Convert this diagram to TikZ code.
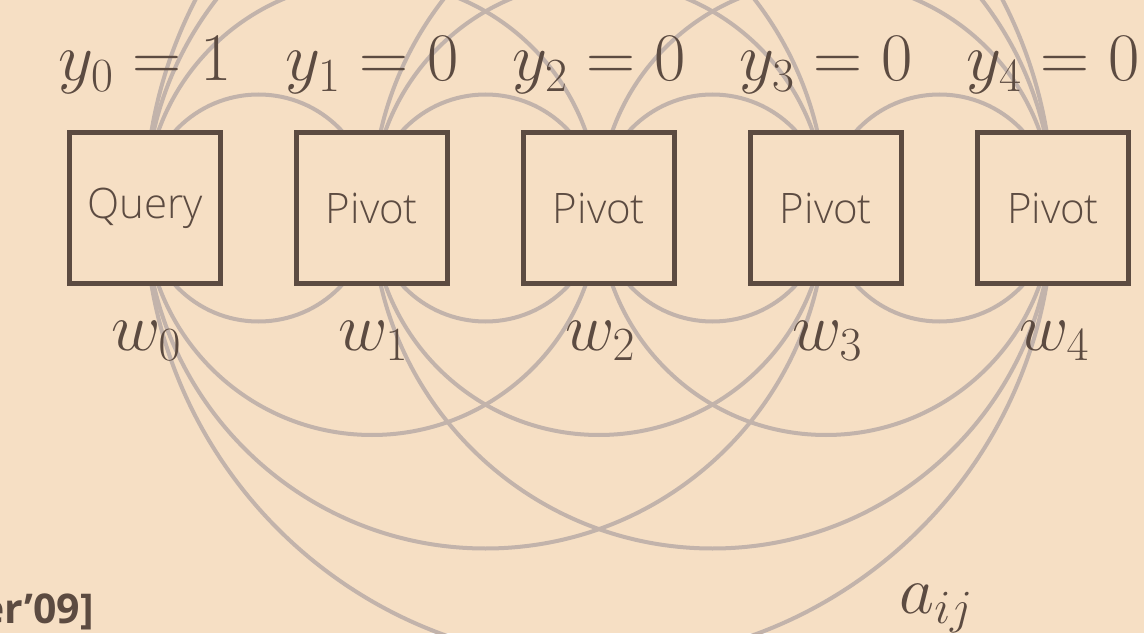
\RequirePackage{fix-cm}
\documentclass[tikz,border=0pt]{standalone}
\usepackage{fontspec}
\newfontfamily\boxfont{Open Sans Light}
\newfontfamily\citefont{Open Sans}
\definecolor{bg}{HTML}{F6DFC4}
\definecolor{ink}{HTML}{5C4B41}
\definecolor{arcc}{HTML}{C2B3AB}
\pgfdeclarelayer{back}
\pgfdeclarelayer{arcs}
\pgfsetlayers{back,arcs,main}
\begin{document}
\begin{tikzpicture}[x=1pt,y=1pt,
  box/.style={draw=ink, line width=4.8pt, fill=bg, minimum size=151pt, inner sep=0pt,
    font=\boxfont\fontsize{42}{48}\selectfont, text=ink},
  arcline/.style={draw=arcc, line width=4pt},
  lab/.style={text=ink, inner sep=0pt, anchor=base, font=\fontsize{68}{74}\selectfont}]
\useasboundingbox (0,0) rectangle (1144,633);
\begin{pgfonlayer}{back}
\fill[bg] (0,0) rectangle (1144,633);
\end{pgfonlayer}
\clip (0,0) rectangle (1144,633);
\node[box] (n0) at (145,425) {Query};
\foreach \i in {1,...,4} \node[box] (n\i) at (145+227*\i,425) {Pivot};
\begin{pgfonlayer}{arcs}
\foreach \i [evaluate=\i as \k using int(\i+1)] in {0,...,3} {
  \foreach \j in {\k,...,4} {
    \draw[arcline] (n\i.center) arc[start angle=180, delta angle=-360, radius={113.5*(\j-\i)}];
  }
}
\end{pgfonlayer}
\node[lab] (y0) at (145,552) {$y_0=1$};
\foreach \i in {1,...,4} \node[lab] (y\i) at (145+227*\i,552) {$y_\i=0$};
\foreach \i in {0,...,4} \node[lab] (w\i) at (146+227*\i,283) {$w_\i$};
\node[lab] (aij) at (936,20) {$a_{ij}$};
\node[text=ink, inner sep=0pt, anchor=base east, font=\citefont\bfseries\fontsize{41}{48}\selectfont] (cite) at (94,10) {er’09]};
\end{tikzpicture}
\end{document}
